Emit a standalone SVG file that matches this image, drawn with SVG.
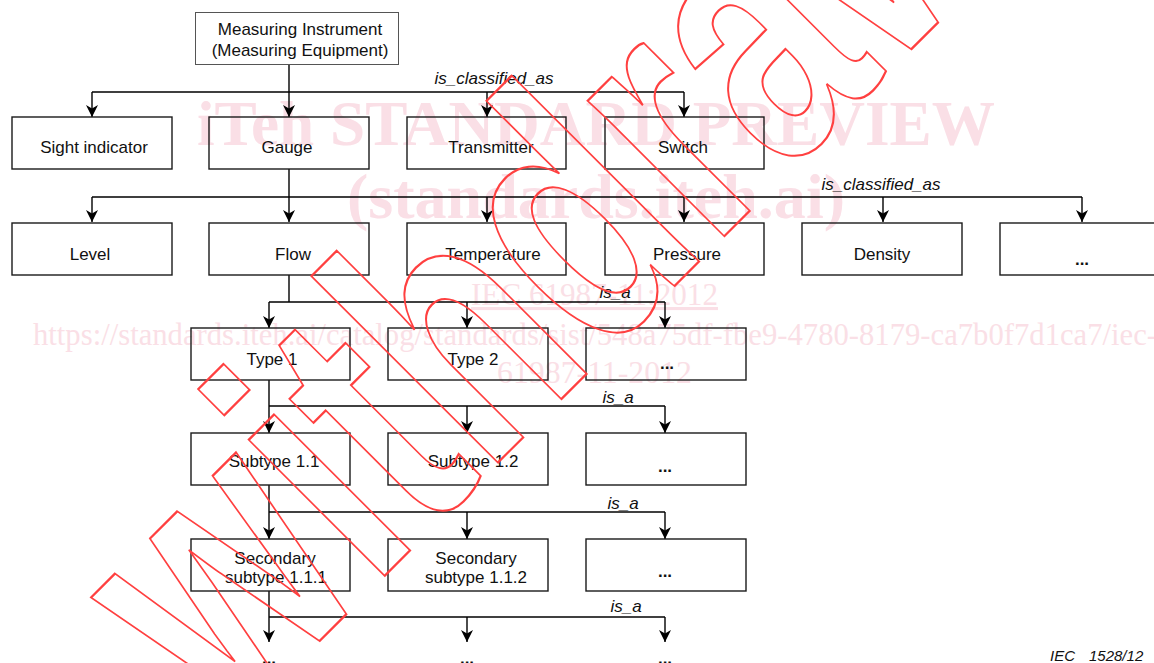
<svg xmlns="http://www.w3.org/2000/svg" width="1154" height="663" viewBox="0 0 1154 663">
<defs>
<style>
.box{fill:none;stroke:#1a1a1a;stroke-width:1.4}
.top{fill:none;stroke:#555;stroke-width:1}
.t{font-family:"Liberation Sans",Arial,sans-serif;font-size:17px;fill:#111;text-anchor:middle}
.dots{font-weight:bold}
.lbl{font-family:"Liberation Sans",Arial,sans-serif;font-size:17px;font-style:italic;fill:#111;text-anchor:middle}
.ln{fill:none;stroke:#000;stroke-width:1.4}
.ar{fill:none;stroke:#000;stroke-width:1.4;marker-end:url(#arr)}
.wm{font-family:"Liberation Serif","Times New Roman",serif;fill:#fadfe6}
</style>
<marker id="arr" viewBox="0 0 12 12" refX="12" refY="6" markerWidth="12" markerHeight="12" markerUnits="userSpaceOnUse" orient="auto">
<path d="M0,0 L12,6 L0,12 L3.5,6 z" fill="#000"/>
</marker>
</defs>
<rect width="1154" height="663" fill="#fff"/>
<g id="watermark">
<text class="wm" x="197" y="145" font-size="63" font-weight="bold" textLength="798" lengthAdjust="spacingAndGlyphs">iTeh STANDARD PREVIEW</text>
<text class="wm" x="347" y="218" font-size="63" font-weight="bold" textLength="498" lengthAdjust="spacingAndGlyphs">(standards.iteh.ai)</text>
<text class="wm" x="471" y="305" font-size="31" text-decoration="underline" textLength="247" lengthAdjust="spacingAndGlyphs">IEC 61987-11:2012</text>
<text class="wm" x="33" y="345" font-size="31" textLength="1124" lengthAdjust="spacingAndGlyphs">https://standards.iteh.ai/catalog/standards/sist/548a75df-fbe9-4780-8179-ca7b0f7d1ca7/iec-</text>
<text class="wm" x="497" y="383" font-size="31" textLength="195" lengthAdjust="spacingAndGlyphs">61987-11-2012</text>
</g>
<g id="connectors">
<path class="ln" d="M289,64 V92 M92,92 H684"/>
<path class="ar" d="M92,92 V117"/>
<path class="ar" d="M289,92 V117"/>
<path class="ar" d="M487,92 V117"/>
<path class="ar" d="M684,92 V117"/>
<path class="ln" d="M289,169 V197 M92,197 H1082"/>
<path class="ar" d="M92,197 V222"/>
<path class="ar" d="M289,197 V222"/>
<path class="ar" d="M487,197 V222"/>
<path class="ar" d="M684,197 V222"/>
<path class="ar" d="M883,197 V222"/>
<path class="ar" d="M1082,197 V222"/>
<path class="ln" d="M289,275 V302 M269,302 H665"/>
<path class="ar" d="M269,302 V328"/>
<path class="ar" d="M467,302 V328"/>
<path class="ar" d="M665,302 V328"/>
<path class="ln" d="M269,406 H665"/>
<path class="ar" d="M269,380 V433"/>
<path class="ar" d="M467,406 V433"/>
<path class="ar" d="M665,406 V433"/>
<path class="ln" d="M269,512 H665"/>
<path class="ar" d="M269,485 V539"/>
<path class="ar" d="M467,512 V539"/>
<path class="ar" d="M665,512 V539"/>
<path class="ln" d="M269,617 H665"/>
<path class="ar" d="M269,591 V642"/>
<path class="ar" d="M467,617 V642"/>
<path class="ar" d="M665,617 V642"/>
<text class="lbl" x="494" y="84">is_classified_as</text>
<text class="lbl" x="881" y="190">is_classified_as</text>
<text class="lbl" x="615" y="298">is_a</text>
<text class="lbl" x="618" y="403">is_a</text>
<text class="lbl" x="623" y="509">is_a</text>
<text class="lbl" x="626" y="612">is_a</text>
</g>
<g id="n-measuring-instrument"><rect class="top" x="195.5" y="12.5" width="203" height="52"/><text class="t" x="300" y="35">Measuring Instrument</text><text class="t" x="300" y="56">(Measuring Equipment)</text></g>
<g id="n-sight-indicator"><rect class="box" x="12" y="117" width="160" height="52"/><text class="t" x="94" y="153">Sight indicator</text></g>
<g id="n-gauge"><rect class="box" x="209" y="117" width="160" height="52"/><text class="t" x="287" y="153">Gauge</text></g>
<g id="n-transmitter"><rect class="box" x="407" y="117" width="159" height="52"/><text class="t" x="491" y="153">Transmitter</text></g>
<g id="n-switch"><rect class="box" x="605" y="117" width="159" height="52"/><text class="t" x="683" y="153">Switch</text></g>
<g id="n-level"><rect class="box" x="12" y="223" width="160" height="52"/><text class="t" x="90" y="260">Level</text></g>
<g id="n-flow"><rect class="box" x="209" y="223" width="160" height="52"/><text class="t" x="293" y="260">Flow</text></g>
<g id="n-temperature"><rect class="box" x="407" y="223" width="159" height="52"/><text class="t" x="493" y="260">Temperature</text></g>
<g id="n-pressure"><rect class="box" x="605" y="223" width="159" height="52"/><text class="t" x="687" y="260">Pressure</text></g>
<g id="n-density"><rect class="box" x="802" y="223" width="160" height="52"/><text class="t" x="882" y="260">Density</text></g>
<g id="n-more-2"><rect class="box" x="1000" y="223" width="170" height="52"/><text class="t dots" x="1082" y="265">...</text></g>
<g id="n-type1"><rect class="box" x="191" y="328" width="159" height="52"/><text class="t" x="272" y="365">Type 1</text></g>
<g id="n-type2"><rect class="box" x="388" y="328" width="160" height="52"/><text class="t" x="473" y="365">Type 2</text></g>
<g id="n-more-3"><rect class="box" x="586" y="328" width="160" height="52"/><text class="t dots" x="667" y="369">...</text></g>
<g id="n-subtype11"><rect class="box" x="191" y="433" width="159" height="52"/><text class="t" x="274" y="467">Subtype 1.1</text></g>
<g id="n-subtype12"><rect class="box" x="388" y="433" width="160" height="52"/><text class="t" x="473" y="467">Subtype 1.2</text></g>
<g id="n-more-4"><rect class="box" x="586" y="433" width="160" height="52"/><text class="t dots" x="665" y="472">...</text></g>
<g id="n-secondary111"><rect class="box" x="191" y="539" width="159" height="52"/><text class="t" x="275" y="564">Secondary</text><text class="t" x="276" y="583">subtype 1.1.1</text></g>
<g id="n-secondary112"><rect class="box" x="388" y="539" width="160" height="52"/><text class="t" x="476" y="564">Secondary</text><text class="t" x="476" y="583">subtype 1.1.2</text></g>
<g id="n-more-5"><rect class="box" x="586" y="539" width="160" height="52"/><text class="t dots" x="665" y="577">...</text></g>
<g id="n-more-6a"><text class="t dots" x="269" y="664">...</text></g>
<g id="n-more-6b"><text class="t dots" x="467" y="664">...</text></g>
<g id="n-more-6c"><text class="t dots" x="665" y="664">...</text></g>
<text x="1050" y="661" font-family="Liberation Sans,Arial,sans-serif" font-size="15" font-style="italic" fill="#111">IEC</text>
<text x="1089" y="661" font-family="Liberation Sans,Arial,sans-serif" font-size="15" font-style="italic" fill="#111">1528/12</text>
<g id="stamp">
<text transform="translate(227.6,732.9) rotate(-45) scale(0.72,1)" font-family="Liberation Sans,Arial,sans-serif" font-weight="bold" font-size="364" fill="none" stroke="#ff4040" stroke-width="2" vector-effect="non-scaling-stroke">withdrawn</text>
</g>
</svg>
